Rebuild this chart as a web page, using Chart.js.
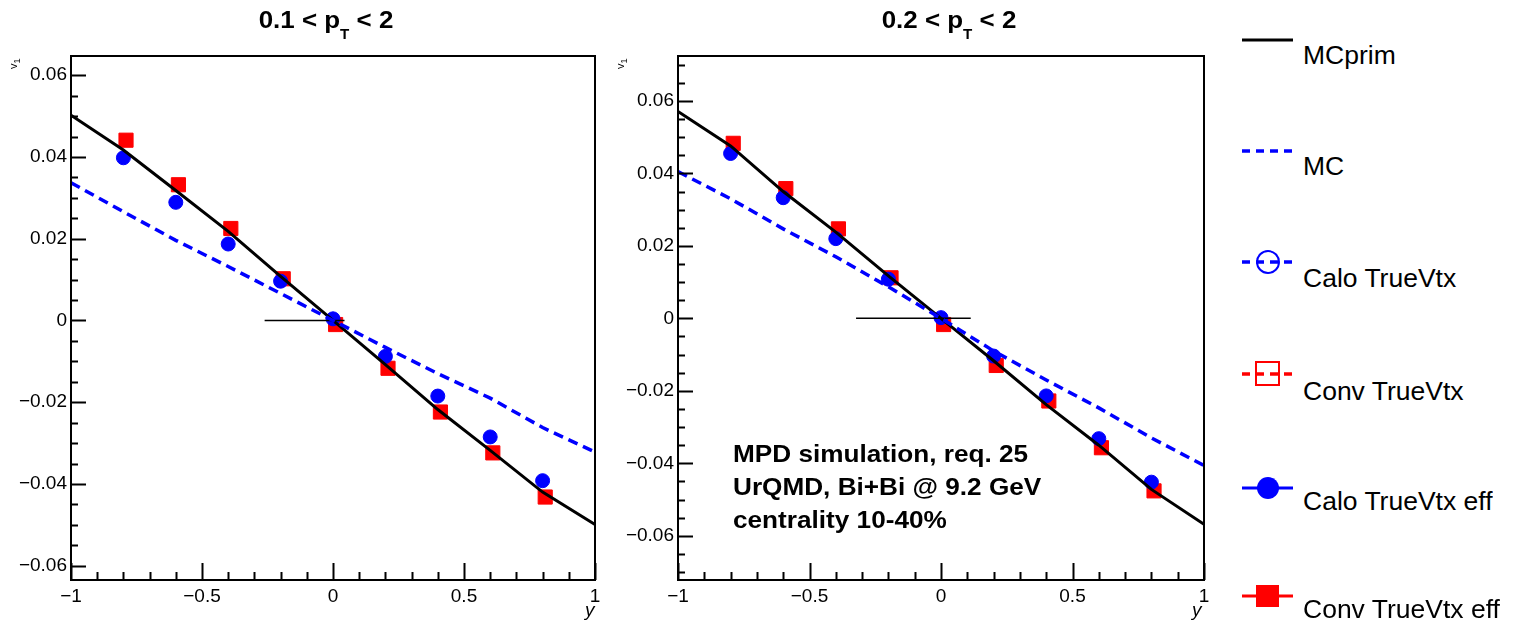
<!DOCTYPE html>
<html>
<head>
<meta charset="utf-8">
<script src="https://cdn.jsdelivr.net/npm/chart.js@4/dist/chart.umd.min.js"></script>
<style>
  body { margin: 0; width: 1518px; height: 624px; background: #fff; position: relative; overflow: hidden;
         font-family: "Liberation Sans", Arial, Helvetica, sans-serif; }
  canvas { position: absolute; top: 0; }
  .txt { position: absolute; white-space: nowrap; color: #000; }
  .title { top: 8px; width: 300px; text-align: center; font: bold 24px/24px "Liberation Sans", Arial, sans-serif;
           transform: scaleX(1.08); }
  .title sub { font-size: 14px; line-height: 0; vertical-align: -11px; }
  .leg { left: 1303px; font: 25px/25px "Liberation Sans", Arial, sans-serif; transform: scaleX(1.06); transform-origin: left center; }
  .note { left: 733px; top: 437px; font: bold 24px/33px "Liberation Sans", Arial, sans-serif; transform: scaleX(1.09); transform-origin: left top; }
  .ytitle { top: 600px; font: italic 19px/19px "Liberation Sans", Arial, sans-serif; }
  .vlab { font: 11px/11px "Liberation Sans", Arial, sans-serif; transform: rotate(-90deg); }
</style>
</head>
<body>
<canvas id="left" width="606" height="624" style="left:0px"></canvas>
<canvas id="right" width="608" height="624" style="left:607px"></canvas>

<div class="txt title" style="left:176px">0.1 &lt; p<sub>T</sub> &lt; 2</div>
<div class="txt title" style="left:799px">0.2 &lt; p<sub>T</sub> &lt; 2</div>

<div class="txt vlab" style="left:10px;top:56px">v<sub>1</sub></div>
<div class="txt vlab" style="left:617px;top:56px">v<sub>1</sub></div>

<div class="txt ytitle" style="left:585px">y</div>
<div class="txt ytitle" style="left:1192px">y</div>

<div class="txt note">MPD simulation, req. 25<br>UrQMD, Bi+Bi @ 9.2 GeV<br>centrality 10-40%</div>

<svg style="position:absolute;left:1230px;top:0" width="80" height="624">
  <line x1="12" y1="40" x2="63" y2="40" stroke="#000" stroke-width="3"/>
  <line x1="12" y1="151" x2="63" y2="151" stroke="#0000ff" stroke-width="3.5" stroke-dasharray="8 6"/>
  <line x1="12" y1="262" x2="63" y2="262" stroke="#0000ff" stroke-width="3.5" stroke-dasharray="8 6"/>
  <circle cx="38" cy="262" r="11" fill="none" stroke="#0000ff" stroke-width="2"/>
  <line x1="12" y1="374" x2="63" y2="374" stroke="#ff0000" stroke-width="3.5" stroke-dasharray="8 6"/>
  <rect x="26" y="362" width="23" height="23" fill="none" stroke="#ff0000" stroke-width="2"/>
  <line x1="12" y1="488" x2="63" y2="488" stroke="#0000ff" stroke-width="3"/>
  <circle cx="38" cy="488" r="11" fill="#0000ff"/>
  <line x1="12" y1="596" x2="63" y2="596" stroke="#ff0000" stroke-width="3"/>
  <rect x="26" y="585" width="23" height="22" fill="#ff0000"/>
</svg>
<div class="txt leg" style="top:43px">MCprim</div>
<div class="txt leg" style="top:154px">MC</div>
<div class="txt leg" style="top:266px">Calo TrueVtx</div>
<div class="txt leg" style="top:379px">Conv TrueVtx</div>
<div class="txt leg" style="top:489px">Calo TrueVtx eff</div>
<div class="txt leg" style="top:597px">Conv TrueVtx eff</div>

<script>
// rapidity grids
const yCurve = [-1, -0.8, -0.6, -0.4, -0.2, 0, 0.2, 0.4, 0.6, 0.8, 1];
const yCalo = [-0.8, -0.6, -0.4, -0.2, 0, 0.2, 0.4, 0.6, 0.8];
const yConv = [-0.79, -0.59, -0.39, -0.19, 0.01, 0.21, 0.41, 0.61, 0.81];

// panel 1: 0.1 < pT < 2
const mcPrim1 = [0.0502, 0.0417, 0.0318, 0.0218, 0.0108, 0, -0.0108, -0.0218, -0.0318, -0.0420, -0.0499];
const mc1 = [0.0337, 0.0266, 0.0196, 0.0132, 0.0066, 0, -0.0066, -0.0130, -0.0190, -0.0262, -0.0322];
const caloEff1 = [0.0398, 0.0289, 0.0187, 0.0096, 0.0004, -0.0088, -0.0185, -0.0285, -0.0392];
const convEff1 = [0.0441, 0.0332, 0.0225, 0.0102, -0.0010, -0.0117, -0.0224, -0.0324, -0.0432];
const bar1 = [-0.261, 0.044];
const range1 = [-0.0635, 0.0647];

// panel 2: 0.2 < pT < 2
const mcPrim2 = [0.0571, 0.0476, 0.0350, 0.0238, 0.0117, 0, -0.0117, -0.0238, -0.0350, -0.0472, -0.0568];
const mc2 = [0.0405, 0.0330, 0.0247, 0.0170, 0.0087, 0, -0.0090, -0.0170, -0.0247, -0.0330, -0.0406];
const caloEff2 = [0.0455, 0.0333, 0.0220, 0.0108, 0.0002, -0.0104, -0.0214, -0.0332, -0.0452];
const convEff2 = [0.0483, 0.0358, 0.0247, 0.0112, -0.0017, -0.0130, -0.0228, -0.0357, -0.0476];
const bar2 = [-0.323, 0.113];
const range2 = [-0.0722, 0.0724];

const BLUE = '#0000ff';
const RED = '#ff0000';
const FONT = '"Liberation Sans", Arial, sans-serif';

const pairs = (xs, ys) => xs.map((x, i) => ({ x, y: ys[i] }));

const fmt = v => {
  const r = Math.round(v * 1000) / 1000;
  if (r === 0) return '0';
  return (r < 0 ? '\u2212' : '') + Math.abs(r).toString();
};

// ROOT-like frame with inward ticks
const rootAxes = {
  id: 'rootAxes',
  afterDatasetsDraw(chart) {
    const { ctx, chartArea: a, scales: { x, y } } = chart;
    ctx.save();
    ctx.strokeStyle = '#000';
    ctx.lineWidth = 2;
    ctx.strokeRect(a.left, a.top, a.right - a.left, a.bottom - a.top);
    ctx.beginPath();
    for (let k = Math.ceil(y.min / 0.005 - 1e-6); k * 0.005 <= y.max + 1e-9; k++) {
      const py = Math.round(y.getPixelForValue(k * 0.005)) + 0.5;
      const len = k % 4 === 0 ? 15 : 7;
      ctx.moveTo(a.left, py);
      ctx.lineTo(a.left + len, py);
    }
    for (let k = -10; k <= 10; k++) {
      const px = Math.round(x.getPixelForValue(k / 10)) + 0.5;
      const len = k % 5 === 0 ? 17 : 8;
      ctx.moveTo(px, a.bottom);
      ctx.lineTo(px, a.bottom - len);
    }
    ctx.stroke();
    ctx.restore();
  }
};

function makePanel(id, mcPrim, mc, caloEff, convEff, bar, range, padRight) {
  return new Chart(document.getElementById(id), {
    type: 'scatter',
    data: {
      datasets: [
        { label: 'MC', data: pairs(yCurve, mc), showLine: true, borderColor: BLUE, borderWidth: 3.5,
          borderDash: [10, 6], pointRadius: 0 },
        { label: 'MCprim', data: pairs(yCurve, mcPrim), showLine: true, borderColor: '#000', borderWidth: 3,
          pointRadius: 0 },
        { label: 'bar', data: [{ x: bar[0], y: 0 }, { x: bar[1], y: 0 }], showLine: true, borderColor: '#000',
          borderWidth: 1.5, pointRadius: 0 },
        { label: 'Calo TrueVtx eff', data: pairs(yCalo, caloEff), pointStyle: 'circle', pointRadius: 7,
          backgroundColor: BLUE, borderColor: BLUE, borderWidth: 1 },
        { label: 'Conv TrueVtx eff', data: pairs(yConv, convEff), pointStyle: 'rect', pointRadius: 10,
          backgroundColor: RED, borderColor: RED, borderWidth: 1 }
      ]
    },
    options: {
      responsive: false,
      animation: false,
      devicePixelRatio: 1,
      layout: { padding: { top: 56, right: padRight, left: 0, bottom: 0 } },
      plugins: { legend: { display: false }, tooltip: { enabled: false } },
      scales: {
        x: {
          type: 'linear', min: -1, max: 1,
          grid: { display: false, drawTicks: false },
          border: { display: false },
          ticks: { stepSize: 0.5, padding: 5, autoSkip: false, maxRotation: 0, color: '#000',
                   font: { family: FONT, size: 19 }, callback: fmt },
          afterFit: s => { s.height = 44; s.paddingLeft = 0; s.paddingRight = 0; }
        },
        y: {
          type: 'linear', min: range[0], max: range[1],
          grid: { display: false, drawTicks: false },
          border: { display: false },
          ticks: { stepSize: 0.02, includeBounds: false, padding: 4, autoSkip: false, color: '#000',
                   font: { family: FONT, size: 19 }, callback: fmt },
          afterFit: s => { s.width = 71; s.paddingTop = 0; s.paddingBottom = 0; }
        }
      }
    },
    plugins: [rootAxes]
  });
}

makePanel('left', mcPrim1, mc1, caloEff1, convEff1, bar1, range1, 5);
makePanel('right', mcPrim2, mc2, caloEff2, convEff2, bar2, range2, 4);
</script>
</body>
</html>
